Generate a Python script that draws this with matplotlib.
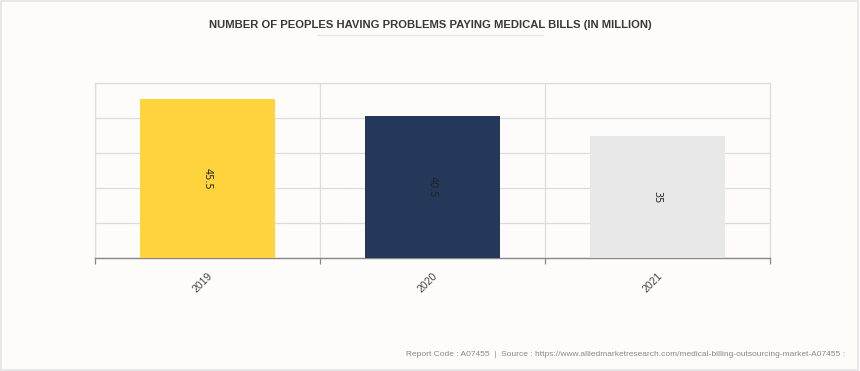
import matplotlib.pyplot as plt
from matplotlib.patches import Rectangle
from matplotlib.lines import Line2D
import numpy as np

plt.rcParams['font.family'] = ['Liberation Sans', 'DejaVu Sans']

# Data
years = ["2019", "2020", "2021"]
values = [45.5, 40.5, 35]
bar_colors = ["#fed33c", "#243859", "#e8e8e8"]

bg = "#fdfcfb"
fig = plt.figure(figsize=(8.6, 3.71), dpi=100)
fig.set_facecolor(bg)

# thin border round the figure
fig.patches.append(Rectangle((0.001, 0.002), 0.997, 0.995, transform=fig.transFigure,
                             fill=False, edgecolor="#e3e3e3", linewidth=1.2))

ax = fig.add_axes([95 / 860, 113 / 371, 675 / 860, 175 / 371])
ax.set_facecolor(bg)

x = np.arange(len(years))
bars = ax.bar(x, values, width=0.6, color=bar_colors, zorder=3)

ax.set_xlim(-0.5, len(years) - 0.5)
ax.set_ylim(0, 50)
ax.set_yticks(np.arange(0, 51, 10))
ax.set_yticklabels([])
ax.tick_params(axis="y", length=0)
ax.grid(axis="y", color="#dcdcdc", linewidth=0.9, zorder=0)

# category boundaries as vertical grid lines and ticks
ax.set_xticks(x)
ax.set_xticklabels(years, rotation=45, ha="right", rotation_mode="anchor",
                   fontsize=7.5, color="#444444")
ax.tick_params(axis="x", which="major", length=0, pad=9)
ax.set_xticks(np.arange(-0.5, len(years), 1), minor=True)
ax.tick_params(axis="x", which="minor", length=4, color="#888888", width=0.9)
ax.grid(axis="x", which="minor", color="#dcdcdc", linewidth=0.9, zorder=0)

for side in ["top", "left", "right"]:
    ax.spines[side].set_color("#dcdcdc")
    ax.spines[side].set_linewidth(0.9)
ax.spines["bottom"].set_color("#888888")
ax.spines["bottom"].set_linewidth(1.0)

# value labels inside bars
for b, v in zip(bars, values):
    ax.text(b.get_x() + b.get_width() / 2, v / 2, f"{v:g}", rotation=270,
            ha="center", va="center", fontsize=7, color="#222222", zorder=4,
            family="DejaVu Sans")

# title
fig.text(0.5, 0.933, "NUMBER OF PEOPLES HAVING PROBLEMS PAYING MEDICAL BILLS (IN MILLION)",
         ha="center", va="center", fontsize=8.1, fontweight="bold", color="#383838")
fig.lines.append(Line2D([318 / 860, 543 / 860], [1 - 35 / 371, 1 - 35 / 371],
                        transform=fig.transFigure, color="#e6e6e6", linewidth=1))

# footer
fig.text(845 / 860, 1 - 354 / 371,
         "Report Code : A07455  |  Source : https://www.alliedmarketresearch.com/medical-billing-outsourcing-market-A07455 :",
         ha="right", va="center", fontsize=6.0, color="#888888")

fig.savefig("out.png", dpi=100, facecolor=bg)
